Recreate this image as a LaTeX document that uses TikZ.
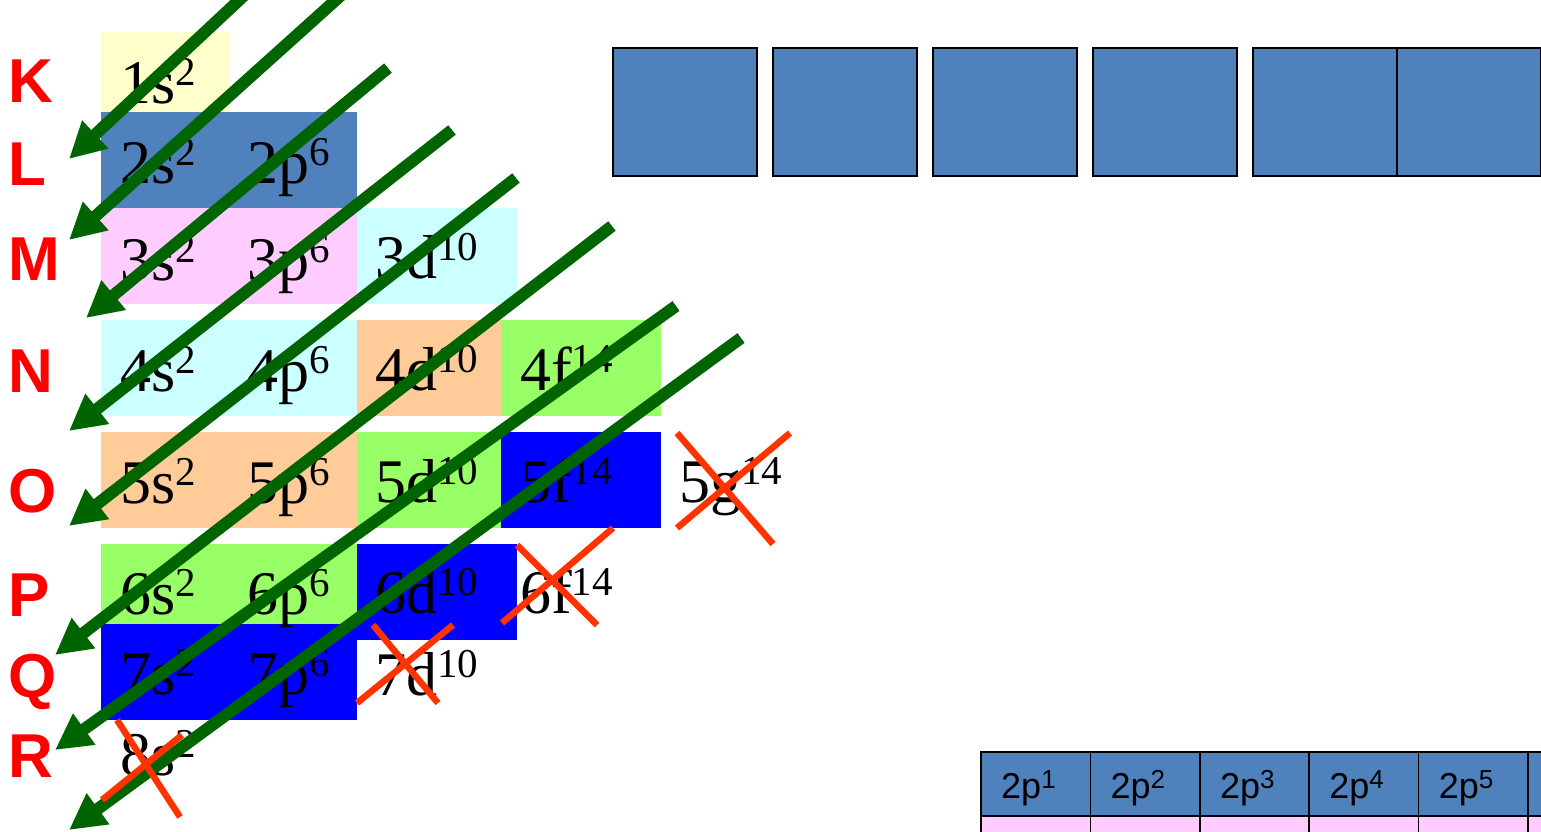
\documentclass[tikz,border=0pt]{standalone}
\usepackage{fontspec}
\setmainfont{Liberation Serif}
\newfontfamily\labfont{Liberation Sans}
\usetikzlibrary{arrows.meta}
\definecolor{oyellow}{HTML}{FFFFCC}
\definecolor{osteel}{HTML}{4F81BD}
\definecolor{opink}{HTML}{FFCCFF}
\definecolor{ocyan}{HTML}{CCFFFF}
\definecolor{oorange}{HTML}{FFCC99}
\definecolor{olime}{HTML}{99FF66}
\definecolor{oblue}{HTML}{0000FF}
\definecolor{ogreen}{HTML}{006400}
\definecolor{ocross}{HTML}{FF3300}
\newcommand\orb[2]{#1\raisebox{18pt}{\fontsize{41}{41}\selectfont #2}}
\newcommand\tsup[1]{\raisebox{10pt}{\fontsize{26}{26}\selectfont #1}}
\tikzset{
  orbtxt/.style  = {anchor=base west, inner sep=0pt, font=\fontsize{62}{62}\selectfont},
  shell/.style   = {anchor=base west, inner sep=0pt, text=red,
                    font=\labfont\bfseries\fontsize{62}{62}\selectfont},
  fillarrow/.style = {ogreen, line width=12pt, -{Triangle[length=36pt,width=36pt]}},
  strike/.style  = {ocross, line width=6.5pt},
  slot/.style    = {draw, line width=2pt, fill=osteel, minimum width=144pt,
                    minimum height=128pt, inner sep=0pt},
  tcell/.style   = {draw, line width=1.5pt, minimum width=109.4pt,
                    minimum height=64pt, inner sep=0pt},
  tlab/.style    = {anchor=base west, inner sep=0pt, font=\labfont\fontsize{36}{36}\selectfont},
}
\begin{document}
\begin{tikzpicture}[x=1pt,y=-1pt]
\useasboundingbox (0,0) rectangle (1541,832);
% coloured cells of the table
\foreach \xa/\ya/\xb/\yb/\col in {101/32/229/112/oyellow, 101/112/357/208/osteel,
    101/208/357/304/opink, 357/208/517/304/ocyan,
    101/320/357/416/ocyan, 357/320/501/416/oorange, 501/320/661/416/olime,
    101/432/357/528/oorange, 357/432/501/528/olime, 501/432/661/528/oblue,
    101/544/357/624/olime, 357/544/517/640/oblue, 101/624/357/720/oblue}
  \fill[\col] (\xa,\ya) rectangle (\xb,\yb);
% orbitals
\foreach \nm/\x/\y/\t in {1s/120/104/\orb{1s}{2},
    2s/120/183/\orb{2s}{2}, 2p/247/183/\orb{2p}{6},
    3s/120/280/\orb{3s}{2}, 3p/247/280/\orb{3p}{6}, 3d/375/278/\orb{3d}{10},
    4s/120/391/\orb{4s}{2}, 4p/247/391/\orb{4p}{6}, 4d/375/390/\orb{4d}{10},
    4f/520/390/\orb{4f}{14},
    5s/120/503/\orb{5s}{2}, 5p/247/503/\orb{5p}{6}, 5d/375/502/\orb{5d}{10},
    5f/520/502/\orb{5f}{14}, 5g/679/502/\orb{5g}{14},
    6s/120/614/\orb{6s}{2}, 6p/247/614/\orb{6p}{6}, 6d/375/613/\orb{6d}{10},
    6f/520/613/\orb{6f}{14},
    7s/120/694/\orb{7s}{2}, 7p/247/694/\orb{7p}{6}, 7d/375/695/\orb{7d}{10},
    8s/120/775/\orb{8s}{2}}
  \node[orbtxt] (o\nm) at (\x,\y) {\t};
% shell letters
\foreach \s/\y in {K/103, L/185, M/280, N/392, O/512, P/616, Q/697, R/777}
  \node[shell] (sh\s) at (8,\y) {\s};
% filling order
\foreach \i/\sx/\sy/\tx/\ty in {1/250/-10/69/159, 2/347/-10/69/240, 3/388/68/86/318,
    4/452/130/69/431, 5/516/178/69/526, 6/612/226/55/655, 7/676/306/55/750,
    8/741/338/69/830}{
  \coordinate (a\i) at (\sx,\sy);
  \coordinate (b\i) at (\tx,\ty);
  \draw[fillarrow] (a\i) -- (b\i);}
% orbitals that are never filled
\foreach \xa/\ya/\xb/\yb in {677/433/773/544, 677/528/790/433, 517/545/597/625,
    502/623/613/528, 373/625/438/703, 357/703/453/625, 117/720/180/817, 102/800/182/735}
  \draw[strike] (\xa,\ya) -- (\xb,\yb);
% empty boxes
\foreach \i/\x in {1/685, 2/845, 3/1005, 4/1165, 5/1325, 6/1469}
  \node[slot] (box\i) at (\x,112) {};
% 2p table
\foreach \i in {1,...,6}{
  \node[tcell, fill=osteel] (tp\i) at ({981+109.4*(\i-1)+54.7},784) {};
  \node[tcell, fill=opink] (tq\i) at ({981+109.4*(\i-1)+54.7},848) {};}
\foreach \i in {1,...,5}
  \node[tlab] (tl\i) at ({1001+109.4*(\i-1)},798) {2p\tsup{\i}};
\end{tikzpicture}
\end{document}
